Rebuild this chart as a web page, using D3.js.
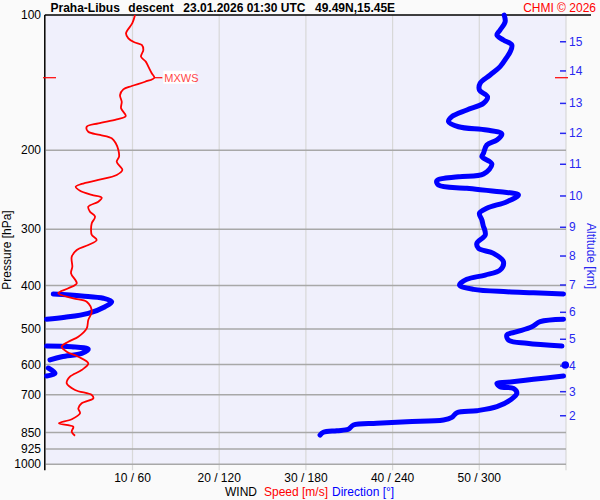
<!DOCTYPE html>
<html>
<head>
<meta charset="utf-8">
<script src="https://cdn.jsdelivr.net/npm/d3@7"></script>
<style>
  body { margin: 0; background: #fafafa; }
  svg { display: block; font-family: "Liberation Sans", Arial, sans-serif; }
</style>
</head>
<body>
<script>
var WIDTH = 600;
var HEIGHT = 500;

var COLOR_SPEED = "#ff0000";
var COLOR_DIR = "#0000ff";
var COLOR_ALT = "#2828f0";

// wind speed profile (hPa, m/s)
var speedP = [100, 104.3, 109.9, 112.7, 115.0, 116.6, 119.6, 123.8, 127.0, 130.3, 134.8, 137.9, 140.8, 143.9,
    146.4, 150.7, 156.0, 161.3, 167.8, 170.7, 174.2, 177.3, 181.9, 184.9, 188.1, 193.0, 199.8, 206.7, 212.1,
    221.3, 227.0, 232.9, 237.7, 241.1, 246.1, 251.5, 255.1, 260.3, 267.1, 274.0, 281.1, 290.8, 300.9, 308.7,
    316.8, 325.0, 333.4, 345.1, 363.3, 375.7, 395.6, 405.8, 416.3, 427.1, 434.7, 457.5, 477.3, 498.1, 520.0,
    533.5, 547.3, 561.5, 576.1, 596.0, 616.8, 638.3, 660.3, 683.3, 701.1, 713.1, 731.5, 750.6, 770.0, 794.0,
    810.6, 824.8, 846.2, 863.7];
var speedV = [10.29, 9.98, 9.25, 9.52, 10.21, 11.07, 11.25, 10.98, 11.53, 11.83, 12.22, 12.52, 11.45, 9.91,
    8.94, 8.56, 8.76, 8.68, 9.22, 8.18, 6.06, 4.72, 4.90, 6.25, 7.60, 8.07, 8.37, 8.45, 8.18,
    8.83, 8.18, 6.06, 4.14, 3.45, 3.95, 5.30, 6.45, 6.06, 4.90, 5.10, 5.68, 5.30, 5.22, 5.30,
    5.87, 4.90, 3.57, 2.99, 3.06, 2.91, 3.57, 2.60, 1.44, 3.17, 4.72, 5.30, 4.90, 4.72, 3.75,
    2.60, 1.83, 2.41, 3.75, 4.90, 4.14, 2.79, 2.41, 3.37, 5.30, 5.48, 4.14, 3.75, 3.95, 2.99,
    1.52, 3.17, 2.99, 3.37];

// wind direction profile (hPa, deg)
var dirP = [100, 103.5, 108.0, 110.8, 113.7, 116.6, 120.7, 124.8, 130.3, 136.0, 141.9, 146.9, 152.0, 157.2,
    162.7, 168.4, 172.8, 177.3, 180.3, 184.0, 189.8, 194.7, 203.2, 206.7, 214.6, 225.9, 229.1, 233.8, 239.0,
    243.1, 247.4, 251.5, 260.3, 269.3, 276.3, 285.9, 296.0, 298.4, 308.7, 322.2, 330.6, 339.2, 354.1, 369.5,
    379.1, 387.6, 399.1, 408.0, 413.0, 415.1, 417.8,
    417.8, 422.1, 427.1, 434.7, 445.9, 461.2, 470.8, 475.6,
    475.6, 481.5, 494.0, 506.9, 515.5, 528.9, 538.0, 545.4,
    545.4, 547.3, 554.6, 566.2, 576.1, 585.9,
    601.2,
    610.6, 627.4, 636.2,
    636.2, 647.0, 657.0, 660.3, 672.0, 677.6, 695.0, 719.3, 744.4, 759.8, 767.7, 786.1, 797.0, 804.0, 810.6,
    817.6, 835.8, 841.8, 848.8, 860.7];
var dirV = [317.2, 317.9, 314.4, 312.2, 316.7, 322.5, 321.4, 318.6, 314.4, 307.5, 300.6, 300.1, 305.7, 302.9,
    291.4, 281.0, 278.7, 285.6, 305.2, 315.6, 312.2, 305.2, 302.9, 301.8, 308.7, 302.9, 285.6, 270.6, 271.7,
    291.4, 314.4, 327.1, 319.1, 305.2, 300.1, 301.8, 302.9, 303.4, 304.1, 298.3, 299.4, 309.8, 316.7, 314.4,
    304.1, 291.4, 286.3, 296.0, 319.1, 337.5, 358.3,
    5.2, 24.9, 39.8, 45.6, 41.0, 29.4, 13.3, 0.6,
    358.3, 342.1, 336.4, 326.0, 319.1, 320.2, 332.9, 357.2,
    0.6, 17.9, 29.4, 24.9, 11.0, 2.9,
    359.5,
    1.7, 6.4, 0.6,
    358.3, 337.5, 319.1, 312.2, 314.4, 323.6, 326.0, 321.4, 312.2, 298.3, 284.5, 281.0, 275.2, 249.9, 229.1,
    212.9, 209.4, 201.4, 192.1, 189.8];

var pressureTicks = [100, 200, 300, 400, 500, 600, 700, 850, 925, 1000];
var speedTicks = [10, 20, 30, 40, 50];
var dirTicks = [60, 120, 180, 240, 300];

// altitude axis: km and the pressure it sits at
var altKm = [2, 3, 4, 5, 6, 7, 8, 9, 10, 11, 12, 13, 14, 15];
var altP = [779.7, 689.3, 604.2, 526.9, 458.9, 399.0, 343.9, 296.8, 252.8, 214.9, 183.4, 157.3, 133.2, 114.7];

var mxwsP = 137.9;
var mxwsV = 12.52;

var g_svg;

function init() {
    g_svg = d3.select('body').append('svg')
        .attr('width', WIDTH)
        .attr('height', HEIGHT);
    draw();
}

function draw() {
    var x = d3.scaleLinear().domain([0, 60]).range([45.8, 566]);
    var xd = d3.scaleLinear().domain([0, 360]).range([45.8, 566]);
    var y = d3.scaleLog().domain([100, 1000]).range([15, 464.3]);

    // plot background
    g_svg.append('rect')
        .attr('x', x(0)).attr('y', y(100))
        .attr('width', x(60) - x(0)).attr('height', y(1000) - y(100))
        .style('fill', '#f0f0fc');

    // vertical grid
    g_svg.selectAll('.vgrid')
        .data(speedTicks.concat([60]))
        .enter().append('line')
            .attr('x1', function (d) { return x(d); })
            .attr('x2', function (d) { return x(d); })
            .attr('y1', y(100))
            .attr('y2', y(1000) + 6)
            .style('stroke', '#d8d8d8')
            .style('stroke-width', 1.2);

    // horizontal grid
    g_svg.selectAll('.hgrid')
        .data(pressureTicks.slice(1))
        .enter().append('line')
            .attr('x1', x(0))
            .attr('x2', x(60))
            .attr('y1', function (d) { return y(d); })
            .attr('y2', function (d) { return y(d); })
            .style('stroke', '#a8a8a8')
            .style('stroke-width', 1.5);

    // axes frame
    g_svg.append('line')
        .attr('x1', x(0) - 1).attr('x2', 591)
        .attr('y1', y(100)).attr('y2', y(100))
        .style('stroke', '#000').style('stroke-width', 1.5);
    g_svg.append('line')
        .attr('x1', x(0) - 1).attr('x2', x(0) - 1)
        .attr('y1', y(100)).attr('y2', y(1000) + 6)
        .style('stroke', '#000').style('stroke-width', 1.5);

    // pressure labels
    g_svg.selectAll('.plabel')
        .data(pressureTicks)
        .enter().append('text')
            .attr('x', 41)
            .attr('y', function (d) { return y(d) + 4; })
            .attr('text-anchor', 'end')
            .style('font-size', '12px')
            .style('fill', '#000')
            .text(function (d) { return d; });

    // speed / direction labels
    g_svg.selectAll('.xlabel')
        .data(speedTicks)
        .enter().append('text')
            .attr('x', function (d) { return x(d); })
            .attr('y', 482)
            .attr('text-anchor', 'middle')
            .style('font-size', '12px')
            .style('fill', '#000')
            .text(function (d, i) { return d + ' / ' + dirTicks[i]; });

    var legend = g_svg.append('text')
        .attr('x', 225).attr('y', 496)
        .style('font-size', '12px');
    legend.append('tspan').style('fill', '#000').text('WIND');
    legend.append('tspan').attr('x', 264).style('fill', COLOR_SPEED).text('Speed [m/s]');
    legend.append('tspan').attr('x', 332).style('fill', COLOR_DIR).text('Direction [°]');

    g_svg.append('text')
        .attr('transform', 'translate(11,' + 250 + ') rotate(-90)')
        .attr('text-anchor', 'middle')
        .style('font-size', '12px')
        .text('Pressure [hPa]');

    // altitude axis
    g_svg.selectAll('.atick')
        .data(altKm)
        .enter().append('line')
            .attr('x1', 560).attr('x2', 566)
            .attr('y1', function (d, i) { return y(altP[i]); })
            .attr('y2', function (d, i) { return y(altP[i]); })
            .style('stroke', COLOR_ALT)
            .style('stroke-width', 1.5);
    g_svg.selectAll('.alabel')
        .data(altKm)
        .enter().append('text')
            .attr('x', 569)
            .attr('y', function (d, i) { return y(altP[i]) + 4; })
            .style('font-size', '12px')
            .style('fill', COLOR_ALT)
            .text(function (d) { return d; });
    g_svg.append('text')
        .attr('transform', 'translate(587,' + 256 + ') rotate(90)')
        .attr('text-anchor', 'middle')
        .style('font-size', '12px')
        .style('fill', COLOR_ALT)
        .text('Altitude [km]');

    // max wind marks
    g_svg.append('line')
        .attr('x1', 43).attr('x2', 56)
        .attr('y1', y(mxwsP)).attr('y2', y(mxwsP))
        .style('stroke', COLOR_SPEED).style('stroke-width', 1.2);
    g_svg.append('line')
        .attr('x1', 555).attr('x2', 568)
        .attr('y1', y(mxwsP)).attr('y2', y(mxwsP))
        .style('stroke', COLOR_SPEED).style('stroke-width', 1.2);
    g_svg.append('line')
        .attr('x1', x(mxwsV)).attr('x2', x(mxwsV) + 8)
        .attr('y1', y(mxwsP)).attr('y2', y(mxwsP))
        .style('stroke', COLOR_SPEED).style('stroke-width', 1.2);
    g_svg.append('rect')
        .attr('x', x(mxwsV) + 9).attr('y', y(mxwsP) - 7)
        .attr('width', 32).attr('height', 13)
        .style('fill', '#ffffff');
    g_svg.append('text')
        .attr('x', x(mxwsV) + 10).attr('y', y(mxwsP) + 4)
        .style('font-size', '11px')
        .style('fill', '#ff4848')
        .text('MXWS');

    // direction: break the line where it wraps over 0/360
    var segs = [];
    var cur = [];
    for (var i = 0; i < dirP.length; i++) {
        if (cur.length > 0 && Math.abs(dirV[i] - cur[cur.length - 1].v) > 180) {
            segs.push(cur);
            cur = [];
        }
        cur.push({p: dirP[i], v: dirV[i]});
    }
    segs.push(cur);

    var dirLine = d3.line()
        .curve(d3.curveCatmullRom)
        .x(function (d) { return xd(d.v); })
        .y(function (d) { return y(d.p); });

    segs.forEach(function (s) {
        if (s.length > 1) {
            g_svg.append('path')
                .attr('d', dirLine(s))
                .style('fill', 'none')
                .style('stroke', COLOR_DIR)
                .style('stroke-width', 5)
                .style('stroke-linecap', 'round')
                .style('stroke-linejoin', 'round');
        } else {
            g_svg.append('circle')
                .attr('cx', xd(s[0].v)).attr('cy', y(s[0].p))
                .attr('r', 3.8)
                .style('fill', COLOR_DIR);
        }
    });

    // speed
    var speedLine = d3.line()
        .curve(d3.curveCatmullRom)
        .x(function (d, i) { return x(speedV[i]); })
        .y(function (d) { return y(d); });
    g_svg.append('path')
        .attr('d', speedLine(speedP))
        .style('fill', 'none')
        .style('stroke', COLOR_SPEED)
        .style('stroke-width', 1.8)
        .style('stroke-linejoin', 'round');

    // title
    var title = g_svg.append('text')
        .attr('y', 12)
        .style('font-size', '12px')
        .style('font-weight', 'bold')
        .style('fill', '#000');
    title.append('tspan').attr('x', 50.5).text('Praha-Libus');
    title.append('tspan').attr('x', 128.3).text('descent');
    title.append('tspan').attr('x', 183.3).text('23.01.2026 01:30 UTC');
    title.append('tspan').attr('x', 315).text('49.49N,15.45E');

    g_svg.append('text')
        .attr('x', 596).attr('y', 12)
        .attr('text-anchor', 'end')
        .style('font-size', '12px')
        .style('fill', COLOR_SPEED)
        .text('CHMI © 2026');
}

init();
</script>
</body>
</html>
